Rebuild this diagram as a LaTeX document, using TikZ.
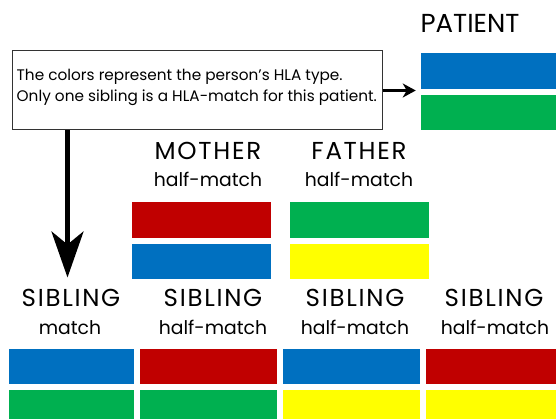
\documentclass[tikz,border=0pt]{standalone}
\usepackage{fontspec}
\setmainfont{Poppins}
\newfontfamily\capsfont[LetterSpace=7]{Poppins}
\usetikzlibrary{arrows.meta,positioning}
\definecolor{hlablue}{HTML}{0070C0}
\definecolor{hlagreen}{HTML}{00B050}
\definecolor{hlared}{HTML}{C00000}
\definecolor{hlayellow}{HTML}{FFFF00}
\definecolor{boxgray}{HTML}{333333}
\tikzset{
  hla/.style={rectangle, inner sep=0pt, minimum width=140pt, minimum height=37pt, draw=white, line width=0.5pt},
  person/.style={inner sep=0pt, font=\capsfont\fontsize{24.5}{24.5}\selectfont},
  matchnote/.style={inner sep=0pt, font=\fontsize{18.8}{18.8}\selectfont},
}

\begin{document}
\begin{tikzpicture}[x=1pt,y=-1pt]
    \clip (0,0) rectangle (556,419);
    \fill[white] (0,0) rectangle (556,419);
    % Text Box
    \node[draw=boxgray, line width=1pt, minimum width=370pt, minimum height=79pt] (note) at (197,90.5) {};
    \node[anchor=west, align=left, inner sep=0pt, font=\fontsize{15.3}{20.7}\selectfont] (notetext)
         at ([xshift=5pt,yshift=3pt]note.west)
         {The colors represent the person's HLA type.\\Only one sibling is a HLA-match for this patient.};
    % Patient
    \node[anchor=base, inner sep=0pt, font=\fontsize{26}{26}\selectfont] (patname) at (470,33) {PATIENT};
    \node[hla, fill=hlablue] (patA) at (490,70.5) {};
    \node[hla, fill=hlagreen, minimum height=36pt] (patB) at (490,112) {};
    % Parents
    \node[person, anchor=base] (motname) at (208,160) {MOTHER};
    \node[matchnote, anchor=base] (motmatch) at (208,187) {half-match};
    \node[hla, fill=hlared] (motA) at (201,219.5) {};
    \node[hla, fill=hlablue, minimum height=36pt] (motB) at (201,261) {};
    \node[person, anchor=base] (fatname) at (359,160) {FATHER};
    \node[matchnote, anchor=base] (fatmatch) at (359,187) {half-match};
    \node[hla, fill=hlagreen] (fatA) at (359,219.5) {};
    \node[hla, fill=hlayellow, minimum height=36pt] (fatB) at (359,261) {};
    % Siblings
    \node[person, anchor=base] (sibname1) at (71,306) {SIBLING};
    \node[matchnote, anchor=base] (sibmatch1) at (70,334) {match};
    \node[person, anchor=base] (sibname2) at (213,306) {SIBLING};
    \node[matchnote, anchor=base] (sibmatch2) at (213,334) {half-match};
    \node[person, anchor=base] (sibname3) at (355,306) {SIBLING};
    \node[matchnote, anchor=base] (sibmatch3) at (355,334) {half-match};
    \node[person, anchor=base] (sibname4) at (494,306) {SIBLING};
    \node[matchnote, anchor=base] (sibmatch4) at (495,334) {half-match};
    \node[hla, fill=hlablue, minimum width=126pt, minimum height=36pt] (sibA1) at (71,366) {};
    \node[hla, fill=hlagreen, minimum width=126pt, minimum height=36pt] (sibB1) at (71,407) {};
    \node[hla, fill=hlared, minimum width=138pt, minimum height=36pt] (sibA2) at (208,366) {};
    \node[hla, fill=hlagreen, minimum width=138pt, minimum height=36pt] (sibB2) at (208,407) {};
    \node[hla, fill=hlablue, minimum width=138pt, minimum height=36pt] (sibA3) at (351,366) {};
    \node[hla, fill=hlayellow, minimum width=138pt, minimum height=36pt] (sibB3) at (351,407) {};
    \node[hla, fill=hlared, minimum width=138pt, minimum height=36pt] (sibA4) at (494,366) {};
    \node[hla, fill=hlayellow, minimum width=138pt, minimum height=36pt] (sibB4) at (494,407) {};
    % Arrows
    \draw[line width=2.5pt, -{Stealth[length=13pt,width=14pt,inset=4pt]}, shorten >=4pt] (note.east) -- (note.east -| patA.west);
    \draw[line width=4.5pt, -{Stealth[length=46pt,width=32pt,inset=13pt]}] ([xshift=56pt]note.south west) -- ++(0,147);
\end{tikzpicture}
\end{document}
